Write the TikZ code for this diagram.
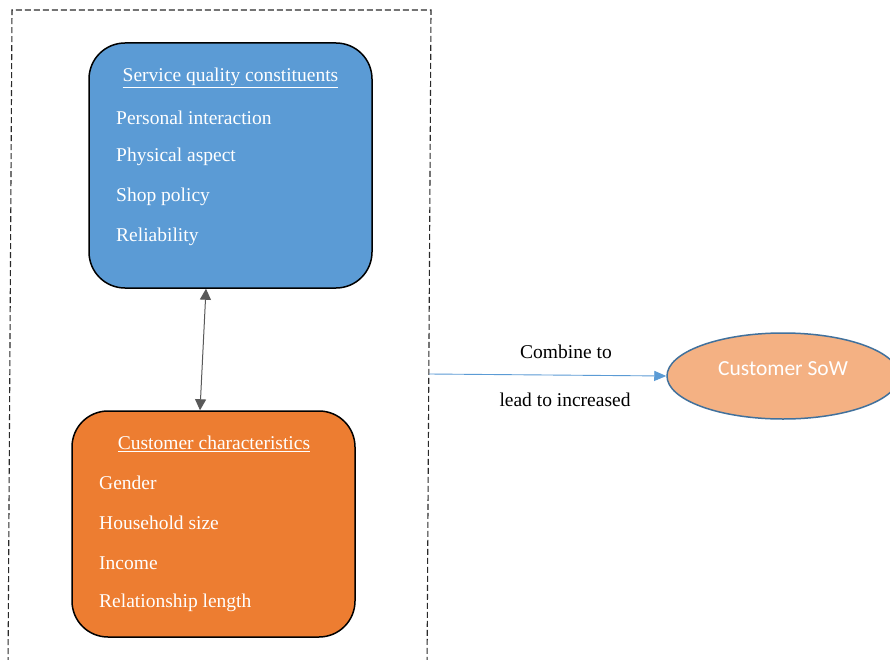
\documentclass[tikz,border=0pt]{standalone}
\usepackage{fontspec}
\setmainfont{Liberation Serif}
\newfontfamily\calfont{Carlito}
\usepackage{xcolor}
\usepackage{tikz}
\usetikzlibrary{shapes,arrows.meta,positioning,calc}

\definecolor{sqblue}{HTML}{5B9BD5}
\definecolor{ccorange}{HTML}{ED7D31}
\definecolor{sowfill}{HTML}{F4B183}
\definecolor{sowline}{HTML}{41719C}
\definecolor{arrgray}{HTML}{595959}
\definecolor{framegray}{HTML}{2A2A2A}

\begin{document}
\begin{tikzpicture}[x=1pt,y=-1pt,
    txt/.style={font=\fontsize{19.5}{22}\selectfont, inner sep=0pt},
    itembox/.style={draw=black, line width=1.5pt, rounded corners=36pt},
    item/.style={txt, text=white, anchor=west}]
    \useasboundingbox (0,0) rectangle (890,660);
    \clip (0,0) rectangle (890,660);
    \fill[white] (0,0) rectangle (890,660);

    % Dashed frame round both boxes
    \draw[framegray, line width=1.1pt, dash pattern=on 6pt off 3pt]
        (8,672) -- (12,10) -- (431,10) -- (427,672);
    \coordinate (frameR) at (429,374);

    % Service quality box
    \node[itembox, fill=sqblue, minimum width=283pt, minimum height=245pt] (sq) at (230.5,165.5) {};
    \node[txt, text=white] (sqtitle) at (230.5,78) {\underline{Service quality constituents}};
    \foreach \y/\t in {118/Personal interaction, 157/Physical aspect, 197/Shop policy, 237/Reliability} {
        \node[item] (sq-\y) at (116,\y) {\t};
    }

    % Customer characteristics box
    \node[itembox, fill=ccorange, minimum width=283pt, minimum height=226pt] (cc) at (213.5,524) {};
    \node[txt, text=white] (cctitle) at (214,444) {\underline{Customer characteristics}};
    \foreach \y/\t in {483/Gender, 523/Household size, 563/Income, 603/Relationship length} {
        \node[item] (cc-\y) at (99,\y) {\t};
    }

    % Customer SoW
    \node[ellipse, draw=sowline, line width=1.5pt, fill=sowfill, minimum width=232pt, minimum height=86pt,
        inner sep=0pt] (sow) at (783,376) {};
    \node[inner sep=0pt, text=white, font=\calfont\fontsize{21.5}{24}\selectfont] (sowtxt) at (783,369) {Customer SoW};

    % Connectors
    \draw[arrgray, line width=1pt, {Triangle[length=11pt,width=11pt]}-{Triangle[length=11pt,width=11pt]}]
        ([xshift=-24.5pt]sq.south) -- ([xshift=-13.5pt]cc.north);
    \draw[sqblue, line width=0.9pt, -{Triangle[length=12pt,width=10pt]}] (frameR) -- (sow.west);
    \node[txt] (comb) at (566,352) {Combine to};
    \node[txt] (lead) at (565,400) {lead to increased};
\end{tikzpicture}
\end{document}
